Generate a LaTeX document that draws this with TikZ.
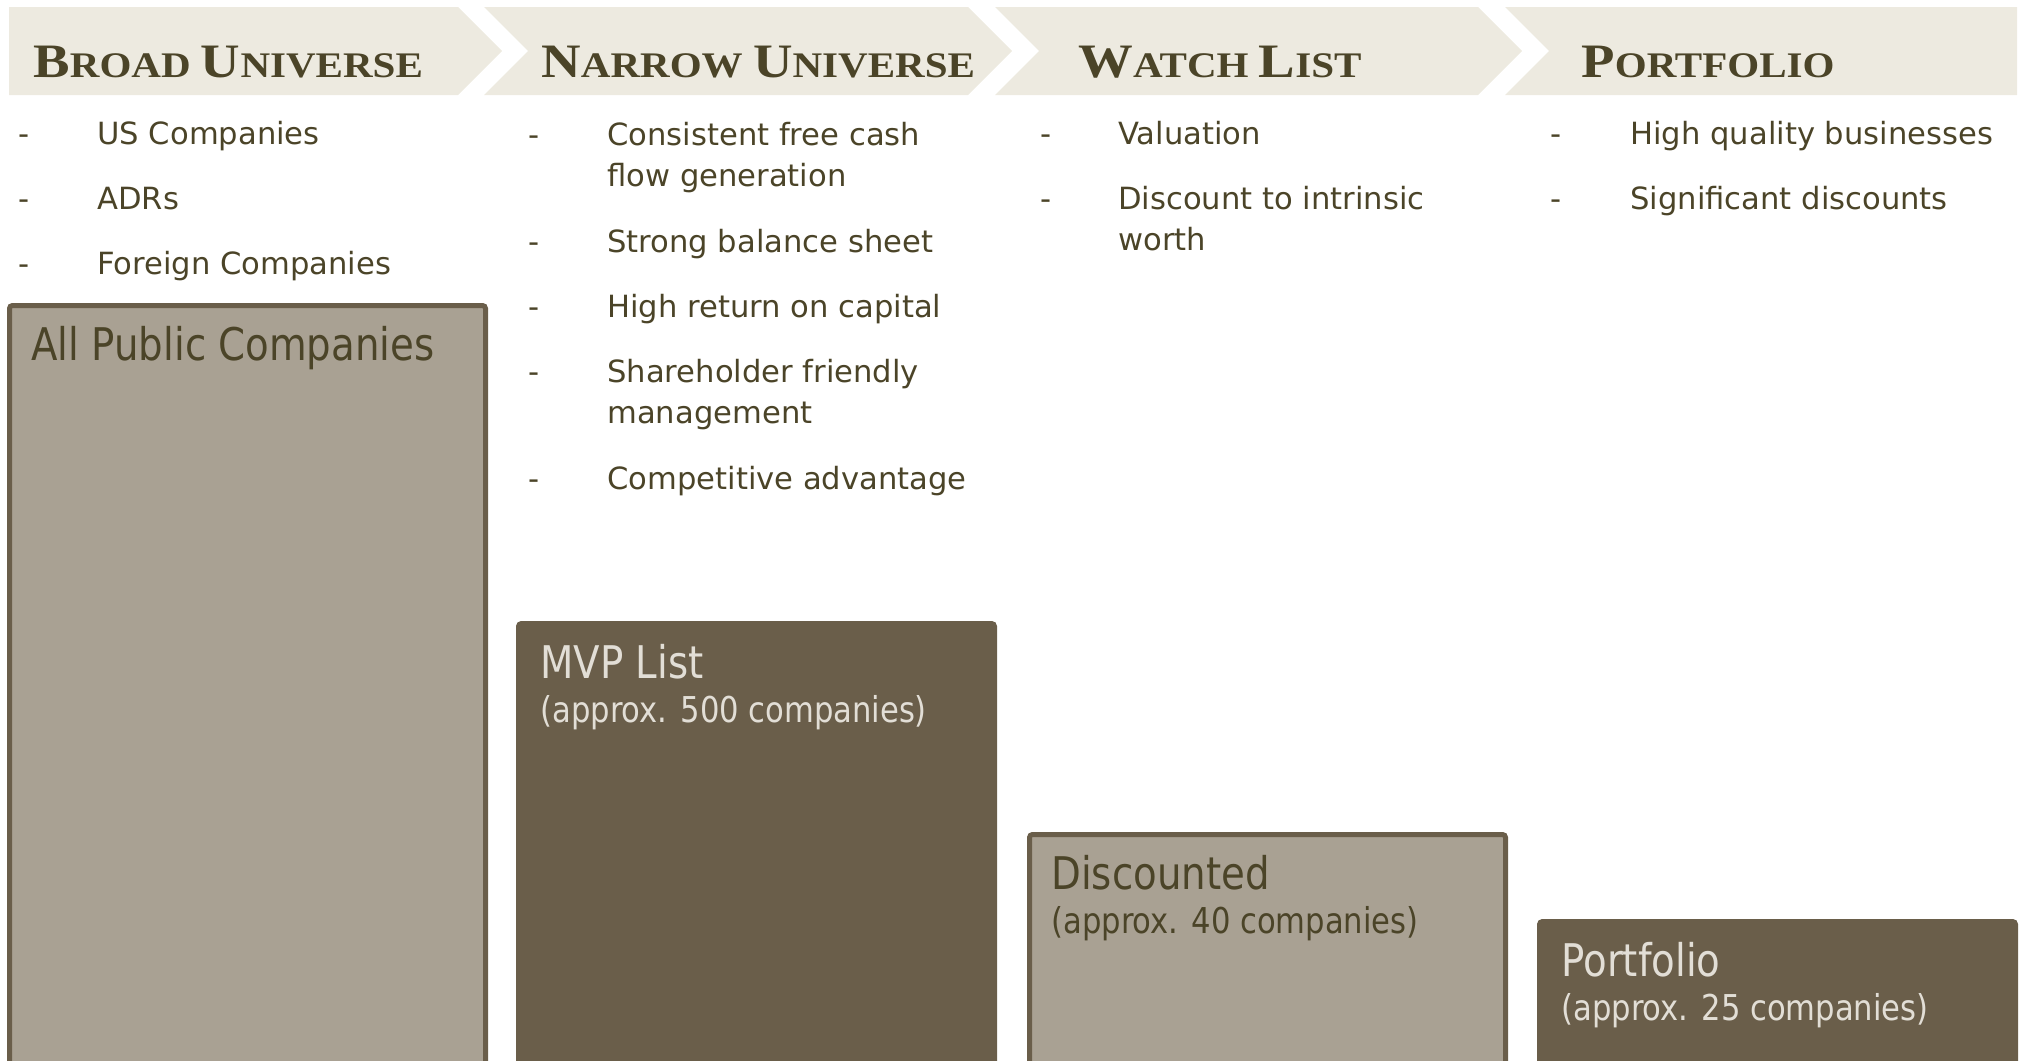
\documentclass[tikz,border=0pt]{standalone}
\usepackage{fontspec}
\setmainfont{DejaVu Sans}
\newfontfamily\headfont[FakeStretch=1.14]{Liberation Serif}
\newfontfamily\boxfont[FakeStretch=0.86]{DejaVu Sans}
\definecolor{bandfill}{RGB}{237,234,224}
\definecolor{olivetext}{RGB}{75,68,40}
\definecolor{boxgrey}{RGB}{169,161,147}
\definecolor{boxdark}{RGB}{106,94,74}
\definecolor{paletext}{RGB}{226,222,214}
\newcommand{\capsc}[2]{{\fontsize{24}{28}\selectfont #1}{\fontsize{18}{22}\selectfont #2}}
\tikzset{
  band/.style={fill=bandfill},
  head/.style={anchor=base west, inner sep=0, text=olivetext, font=\headfont\bfseries\fontsize{18}{22}\selectfont},
  item/.style={anchor=base west, inner sep=0, text=olivetext, align=left, font=\fontsize{15.3}{20.5}\selectfont},
  lightbox/.style={anchor=north west, draw=boxdark, fill=boxgrey, line width=2.5pt, minimum width=238pt, rounded corners=1.5pt, inner sep=0},
  darkbox/.style={lightbox, fill=boxdark},
  boxtitle/.style={anchor=base west, inner sep=0, font=\boxfont\fontsize{22.5}{27}\selectfont},
  boxsub/.style={anchor=base west, inner sep=0, font=\boxfont\fontsize{17.8}{21}\selectfont},
}
\begin{document}
\begin{tikzpicture}[x=0.5pt,y=-0.5pt]
    \useasboundingbox (0,0) rectangle (2021,1060);
    % header chevrons
    \fill[band] (9,7) -- (458,7) -- (502,51) -- (458,95) -- (9,95) -- cycle;
    \fill[band] (484,7) -- (968,7) -- (1012,51) -- (968,95) -- (484,95) -- (528,51) -- cycle;
    \fill[band] (995,7) -- (1478,7) -- (1522,51) -- (1478,95) -- (995,95) -- (1039,51) -- cycle;
    \fill[band] (1505,7) -- (2017,7) -- (2017,95) -- (1505,95) -- (1549,51) -- cycle;
    \node[head] (h1) at (33,77) {\capsc{B}{ROAD} \capsc{U}{NIVERSE}};
    \node[head] (h2) at (541,77) {\capsc{N}{ARROW} \capsc{U}{NIVERSE}};
    \node[head] (h3) at (1078,77) {\capsc{W}{ATCH} \capsc{L}{IST}};
    \node[head] (h4) at (1581,77) {\capsc{P}{ORTFOLIO}};
    % broad universe
    \node[item] (d11) at (18,144) {-};
    \node[item] (a11) at (97,144) {US Companies};
    \node[item] (d12) at (18,209) {-};
    \node[item] (a12) at (97,209) {ADRs};
    \node[item] (d13) at (18,274) {-};
    \node[item] (a13) at (97,274) {Foreign Companies};
    % narrow universe (two-line items sit on their last line)
    \node[item] (d21) at (528,145) {-};
    \node[item] (a21) at (607,186) {Consistent free cash\\flow generation};
    \node[item] (d22) at (528,252) {-};
    \node[item] (a22) at (607,252) {Strong balance sheet};
    \node[item] (d23) at (528,317) {-};
    \node[item] (a23) at (607,317) {High return on capital};
    \node[item] (d24) at (528,382) {-};
    \node[item] (a24) at (607,423) {Shareholder friendly\\management};
    \node[item] (d25) at (528,489) {-};
    \node[item] (a25) at (607,489) {Competitive advantage};
    % watch list
    \node[item] (d31) at (1040,144) {-};
    \node[item] (a31) at (1118,144) {Valuation};
    \node[item] (d32) at (1040,209) {-};
    \node[item] (a32) at (1118,250) {Discount to intrinsic\\worth};
    % portfolio
    \node[item] (d41) at (1550,144) {-};
    \node[item] (a41) at (1630,144) {High quality businesses};
    \node[item] (d42) at (1550,209) {-};
    \node[item] (a42) at (1630,209) {Significant discounts};
    % funnel boxes
    \node[lightbox, minimum height=387pt] (b1) at (7,303) {};
    \node[darkbox, minimum height=228pt] (b2) at (516,621) {};
    \node[lightbox, minimum height=123pt] (b3) at (1027,832) {};
    \node[darkbox, minimum height=80pt] (b4) at (1537,919) {};
    \node[boxtitle, text=olivetext] (t1) at ([shift={(24,57)}]b1.north west) {All Public Companies};
    \node[boxtitle, text=paletext] (t2) at ([shift={(24,57)}]b2.north west) {MVP List};
    \node[boxsub, text=paletext] (s2) at ([shift={(24,101)}]b2.north west) {(approx. 500 companies)};
    \node[boxtitle, text=olivetext] (t3) at ([shift={(24,57)}]b3.north west) {Discounted};
    \node[boxsub, text=olivetext] (s3) at ([shift={(24,101)}]b3.north west) {(approx. 40 companies)};
    \node[boxtitle, text=paletext] (t4) at ([shift={(24,57)}]b4.north west) {Portfolio};
    \node[boxsub, text=paletext] (s4) at ([shift={(24,101)}]b4.north west) {(approx. 25 companies)};
  \end{tikzpicture}
\end{document}
